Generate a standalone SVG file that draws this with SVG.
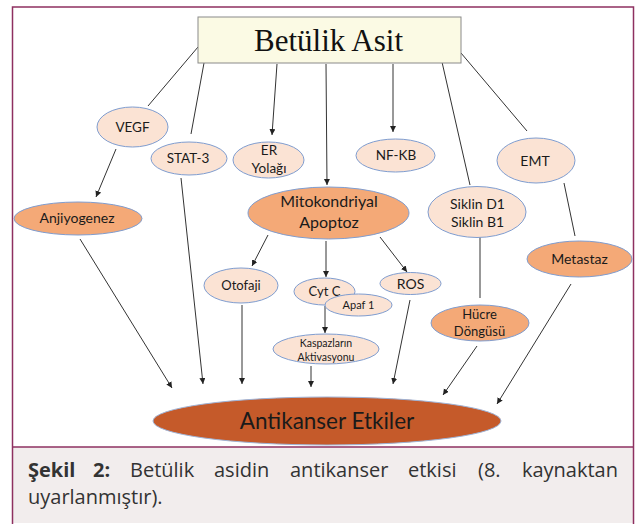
<svg xmlns="http://www.w3.org/2000/svg" width="638" height="524" viewBox="0 0 638 524">
<defs>
<marker id="ah" markerUnits="userSpaceOnUse" markerWidth="7" markerHeight="7" refX="6" refY="3" orient="auto">
<path d="M0,0 L6,3 L0,6 z" fill="#222"/>
</marker>
<style>
.lt{fill:#fbe3d4;stroke:#7f9dd0;stroke-width:1}
.or{fill:#f4a977;stroke:#7f9dd0;stroke-width:1}
.t{font-family:Lato,"Open Sans",sans-serif;fill:#1a1a1a;text-anchor:middle}
.c line{stroke:#333;stroke-width:1}
.a{marker-end:url(#ah)}
.cap{font-family:"Open Sans","Noto Sans",sans-serif;font-size:20px;fill:#333}
</style>
</defs>
<rect x="0" y="0" width="638" height="524" fill="#fff"/>
<rect x="12.5" y="447" width="621" height="76" fill="#f2eded"/>
<rect x="12.5" y="7" width="621" height="520" fill="none" stroke="#8e3060" stroke-width="1.5"/>
<line x1="12.5" y1="447" x2="633.5" y2="447" stroke="#8e3060" stroke-width="1.5"/>

<g class="c">
<line x1="198" y1="47" x2="148" y2="106"/>
<line x1="204" y1="63" x2="191" y2="134"/>
<line class="a" x1="277" y1="64" x2="272" y2="135"/>
<line class="a" x1="326" y1="64" x2="327" y2="185"/>
<line class="a" x1="393" y1="64" x2="393" y2="132"/>
<line x1="442" y1="62" x2="470" y2="185"/>
<line x1="461" y1="53" x2="527" y2="131"/>
<line class="a" x1="116" y1="149" x2="96" y2="197"/>
<line class="a" x1="268" y1="235" x2="252" y2="266"/>
<line class="a" x1="326" y1="241" x2="326" y2="277"/>
<line class="a" x1="380" y1="237" x2="407" y2="272"/>
<line class="a" x1="325" y1="306" x2="325" y2="333"/>
<line x1="480" y1="237" x2="480" y2="298"/>
<line x1="564" y1="183" x2="575" y2="236"/>
<line class="a" x1="80" y1="239" x2="172" y2="388"/>
<line class="a" x1="181" y1="178" x2="203" y2="384"/>
<line class="a" x1="242" y1="305" x2="242" y2="384"/>
<line class="a" x1="311" y1="366" x2="311" y2="387"/>
<line class="a" x1="410" y1="300" x2="393" y2="384"/>
<line class="a" x1="477" y1="346" x2="443" y2="395"/>
<line class="a" x1="571" y1="284" x2="497" y2="404"/>
</g>

<g id="betulik">
<rect x="198" y="17" width="263" height="46" fill="#fbfae4" stroke="#8a8a8a" stroke-width="1"/>
<text x="328.5" y="51" font-family="'Liberation Serif',serif" font-size="31" fill="#111" text-anchor="middle">Betülik Asit</text>
</g>
<g id="vegf"><ellipse class="lt" cx="132.5" cy="127" rx="35.5" ry="20"/><text class="t" x="132.5" y="132" font-size="13.5">VEGF</text></g>
<g id="stat3"><ellipse class="lt" cx="189" cy="158.5" rx="38" ry="16.5"/><text class="t" x="188" y="163" font-size="13.5">STAT-3</text></g>
<g id="er"><ellipse class="lt" cx="268.5" cy="160" rx="35.5" ry="18"/><text class="t" x="269" y="155" font-size="13.5">ER</text><text class="t" x="269" y="173" font-size="13.5">Yolağı</text></g>
<g id="nfkb"><ellipse class="lt" cx="395.5" cy="155.5" rx="39.5" ry="16.5"/><text class="t" x="396" y="160" font-size="13.5">NF-KB</text></g>
<g id="emt"><ellipse class="lt" cx="536" cy="160.5" rx="39" ry="22.5"/><text class="t" x="535" y="166" font-size="14">EMT</text></g>
<g id="anjiyogenez"><ellipse class="or" cx="78" cy="218.5" rx="64" ry="16.5"/><text class="t" x="77" y="223" font-size="14">Anjiyogenez</text></g>
<g id="mito"><ellipse class="or" cx="328.5" cy="213" rx="80.5" ry="26"/><text class="t" x="329" y="207" font-size="16">Mitokondriyal</text><text class="t" x="329" y="228" font-size="16">Apoptoz</text></g>
<g id="siklin"><ellipse class="lt" cx="477" cy="212" rx="49" ry="25.5"/><text class="t" x="477.5" y="209" font-size="14">Siklin D1</text><text class="t" x="477.5" y="227" font-size="14">Siklin B1</text></g>
<g id="metastaz"><ellipse class="or" cx="579.5" cy="259" rx="52.5" ry="18"/><text class="t" x="579.5" y="264" font-size="14">Metastaz</text></g>
<g id="otofaji"><ellipse class="lt" cx="241" cy="285.5" rx="37" ry="17.5"/><text class="t" x="241" y="290" font-size="13">Otofaji</text></g>
<g id="cytc"><ellipse class="lt" cx="324.5" cy="291.5" rx="30.5" ry="13.5"/><text class="t" x="324.5" y="296" font-size="13">Cyt C</text></g>
<g id="apaf1"><ellipse class="lt" cx="358.5" cy="305" rx="33.5" ry="11"/><text class="t" x="358.5" y="309" font-size="11">Apaf 1</text></g>
<g id="ros"><ellipse class="lt" cx="410.5" cy="283.5" rx="30.5" ry="11"/><text class="t" x="410.5" y="289" font-size="14">ROS</text></g>
<g id="hucre"><ellipse class="or" cx="480" cy="323" rx="49" ry="18"/><text class="t" x="479.5" y="319" font-size="13">Hücre</text><text class="t" x="479.5" y="336" font-size="13">Döngüsü</text></g>
<g id="kaspaz"><ellipse class="lt" cx="326" cy="349" rx="53" ry="15"/><text class="t" x="326" y="347" font-size="10.5">Kaspazların</text><text class="t" x="326" y="361" font-size="10.5">Aktivasyonu</text></g>
<g id="antikanser"><ellipse cx="327" cy="421" rx="174" ry="24" fill="#c55a2a" stroke="#9fb3d6" stroke-width="1"/><text class="t" x="327" y="429" font-size="22.5">Antikanser Etkiler</text></g>

<g id="caption">
<text class="cap" x="28" y="477" font-weight="bold">Şekil</text>
<text class="cap" x="93" y="477" font-weight="bold">2:</text>
<text class="cap" x="130" y="477">Betülik</text>
<text class="cap" x="214" y="477">asidin</text>
<text class="cap" x="290" y="477">antikanser</text>
<text class="cap" x="408" y="477">etkisi</text>
<text class="cap" x="478" y="477">(8.</text>
<text class="cap" x="618" y="477" text-anchor="end">kaynaktan</text>
<text class="cap" x="28" y="504">uyarlanmıştır).</text>
</g>
</svg>
